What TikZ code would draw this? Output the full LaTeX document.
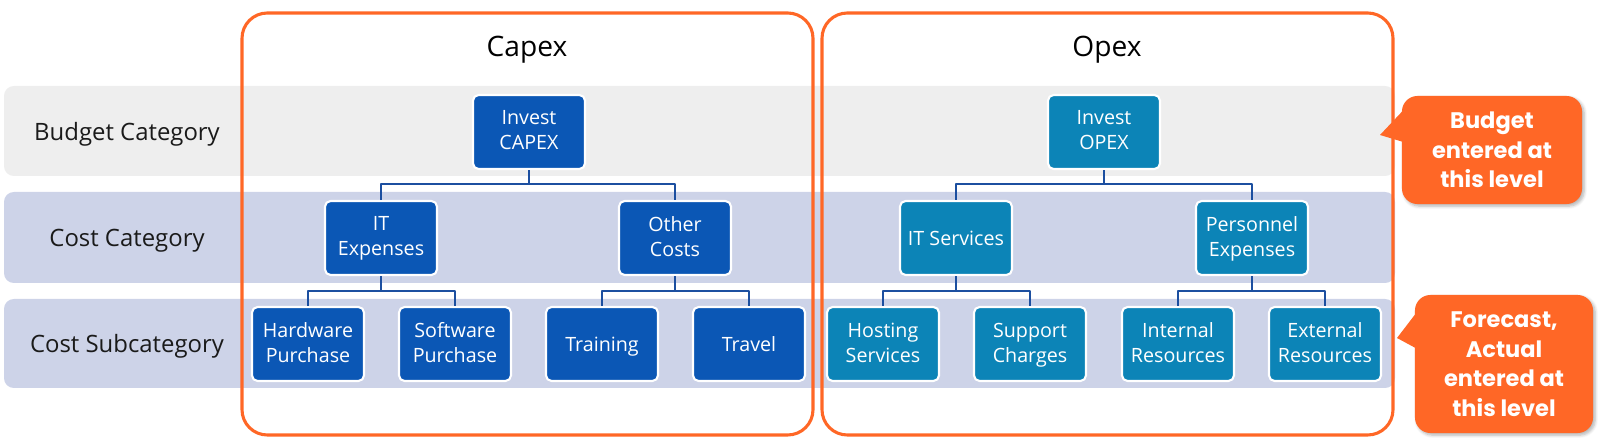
\documentclass[tikz,border=0pt]{standalone}
\usepackage{fontspec}
\setmainfont{Open Sans}
\newfontfamily\calloutfont{Poppins}
\usetikzlibrary{calc,shadows.blur}
\definecolor{capblue}{HTML}{0B57B5}
\definecolor{opblue}{HTML}{0C84B7}
\definecolor{linkblue}{HTML}{1C4FA0}
\definecolor{orangec}{HTML}{FF6726}
\definecolor{bandgray}{HTML}{EEEEEE}
\definecolor{bandblue}{HTML}{CDD3E8}
\definecolor{labelblack}{HTML}{1A1A1A}
\begin{document}
\begin{tikzpicture}[x=0.025cm, y=-0.025cm, line join=round,
cap node/.style={rectangle, rounded corners=4pt, draw=white, line width=1.5pt, fill=capblue, text=white, minimum width=2.8cm, minimum height=1.85cm, inner sep=0pt, align=center, font=\fontsize{14}{17.8}\selectfont, execute at begin node=\strut, text depth=2.2pt},
op node/.style={cap node, fill=opblue},
band label/.style={anchor=base, text=labelblack, font=\fontsize{17}{20}\selectfont},
title/.style={anchor=base, text=black, font=\fontsize{20}{24}\selectfont},
link/.style={draw=linkblue, line width=2pt},
frame/.style={draw=orangec, line width=2.2pt, rounded corners=18pt},
call/.style={fill=orangec, text=white, rounded corners=11pt, inner sep=0pt, align=center, font=\calloutfont\bfseries\fontsize{16}{21}\selectfont, blur shadow={shadow xshift=1.5pt, shadow yshift=-1.5pt, shadow opacity=30, shadow blur steps=6}}]
\useasboundingbox (0,0) rectangle (1600,445);
%bands
\fill[bandgray, rounded corners=7pt] (4,86) rectangle (1395,176);
\fill[bandblue, rounded corners=7pt] (4,192) rectangle (1395,283);
\fill[bandblue, rounded corners=7pt] (4,299) rectangle (1395,388);
\begin{scope}
\node[band label] (lb1) at (127,141) {Budget Category};
\node[band label] (lb2) at (127,247) {Cost Category};
\node[band label] (lb3) at (127,353) {Cost Subcategory};
\node[title] (tcap) at (527,57) {Capex};
\node[title] (top) at (1107,57) {Opex};
\end{scope}
\begin{scope}
\node[cap node] (ic) at (529,132) {Invest\\CAPEX};
\node[cap node] (ite) at (381,238) {IT\\Expenses};
\node[cap node] (oc) at (675,238) {Other\\Costs};
\node[cap node] (hw) at (308,344) {Hardware\\Purchase};
\node[cap node] (sw) at (455,344) {Software\\Purchase};
\node[cap node] (tr) at (602,344) {Training};
\node[cap node] (tv) at (749,344) {Travel};
\node[op node] (io) at (1104,132) {Invest\\OPEX};
\node[op node] (its) at (956,238) {IT Services};
\node[op node] (pe) at (1252,238) {Personnel\\Expenses};
\node[op node] (hs) at (883,344) {Hosting\\Services};
\node[op node] (sc) at (1030,344) {Support\\Charges};
\node[op node] (ir) at (1178,344) {Internal\\Resources};
\node[op node] (er) at (1325,344) {External\\Resources};
\end{scope}
\begin{scope}
\draw[link] (ic.south) -- ++(0,14) -| (ite.north);
\draw[link] (ic.south) -- ++(0,14) -| (oc.north);
\draw[link] (ite.south) -- ++(0,15) -| (hw.north);
\draw[link] (ite.south) -- ++(0,15) -| (sw.north);
\draw[link] (oc.south) -- ++(0,15) -| (tr.north);
\draw[link] (oc.south) -- ++(0,15) -| (tv.north);
\draw[link] (io.south) -- ++(0,14) -| (its.north);
\draw[link] (io.south) -- ++(0,14) -| (pe.north);
\draw[link] (its.south) -- ++(0,15) -| (hs.north);
\draw[link] (its.south) -- ++(0,15) -| (sc.north);
\draw[link] (pe.south) -- ++(0,15) -| (ir.north);
\draw[link] (pe.south) -- ++(0,15) -| (er.north);
\end{scope}
%frames
\draw[frame] (242,13) rectangle (813,435);
\draw[frame] (822,13) rectangle (1393,435);
%callouts
\node[call, minimum width=4.5cm, minimum height=2.7cm] (bcall) at (1492,150) {Budget\\entered at\\this level};
\node[call, minimum width=4.45cm, minimum height=3.45cm] (fcall) at (1504,364) {Forecast,\\Actual\\entered at\\this level};
\coordinate (btip) at (1380,135);
\coordinate (ftip) at (1397,338);
\fill[orangec] ($(bcall.north west)+(4,12)$) -- (btip) -- ($(bcall.north west)+(4,47)$) -- cycle;
\fill[orangec] ($(fcall.north west)+(4,15)$) -- (ftip) -- ($(fcall.north west)+(4,55)$) -- cycle;
\end{tikzpicture}
\end{document}
